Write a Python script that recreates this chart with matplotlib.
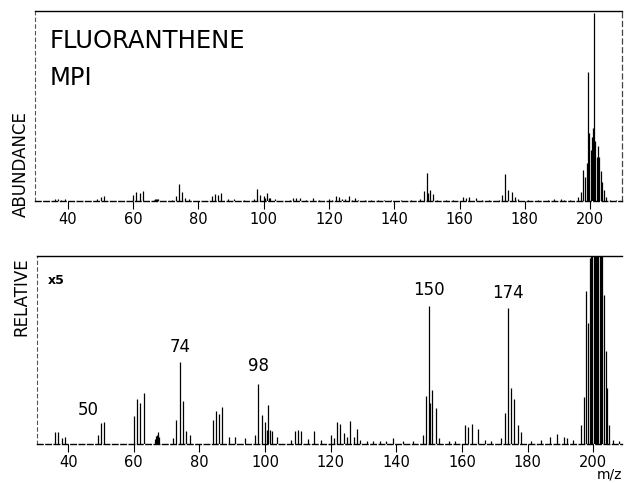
import numpy as np
import matplotlib
matplotlib.use("Agg")
import matplotlib.pyplot as plt

# ---- data: m/z and relative abundance (% of base peak) ----
mz = [36, 37, 38, 39, 49, 50, 51, 60, 61, 62, 63,
      66.4, 66.8, 67.0, 67.3, 67.6, 72, 73, 74, 75, 76, 77,
      84, 85, 86, 87, 89, 91, 94, 97, 98, 99, 100, 100.5, 101, 101.5, 102, 103.5,
      108, 109, 110, 111, 113, 115, 117, 120, 121, 122, 123, 124, 125, 126, 127, 128, 129,
      131, 133, 135, 137, 139, 142, 145, 148, 149, 150, 150.4, 151, 152, 153, 156, 158,
      161, 162, 163, 165, 167, 169, 172, 173, 174, 175, 176, 177, 178, 181, 184, 187, 189, 191, 192, 194,
      196.4, 197.1, 197.9, 198.5, 199.0, 199.5, 199.8, 200.2, 200.5, 200.8, 201.0, 201.3,
      201.6, 202.0, 202.4, 202.8, 203.3, 203.8, 204.3, 204.9, 206, 208]
abund = [1.3, 1.3, 0.6, 0.8, 1.0, 2.3, 2.4, 3.0, 4.8, 4.4, 5.5,
         0.5, 0.9, 1.0, 1.3, 0.8, 0.6, 2.6, 8.8, 4.6, 1.4, 1.0,
         2.6, 3.5, 3.2, 4.0, 0.8, 0.8, 0.6, 1.0, 6.4, 3.1, 2.4, 1.5, 4.2, 1.5, 1.4, 0.8,
         0.4, 1.4, 1.5, 1.4, 0.5, 1.4, 0.4, 1.0, 0.6, 2.4, 2.2, 1.2, 0.8, 2.5, 0.7, 1.6, 0.4,
         0.3, 0.3, 0.3, 0.3, 0.6, 0.3, 0.3, 1.0, 5.2, 14.8, 4.4, 5.8, 3.9, 0.6, 0.3, 0.3,
         2.0, 1.8, 2.2, 1.6, 0.4, 0.3, 0.6, 3.3, 14.6, 6.0, 4.8, 2.0, 1.3, 0.3, 0.4, 0.7, 1.1, 0.8, 0.6, 0.4,
         2, 5, 16.4, 13, 20, 68.4, 36, 27, 34, 29, 39, 100,
         32, 23.5, 29, 23.5, 16, 10, 6, 2, 0.4, 0.3]

ticks = [40, 60, 80, 100, 120, 140, 160, 180, 200]
scale_factor = 5
label_text = ["50", "74", "98", "150", "174"]
label_mz = [46, 74, 98, 150, 174]
label_y = [3.6, 10.4, 8.4, 16.5, 16.2]   # in bottom-panel (x5) units

mz_a = np.array(mz)
ab_a = np.array(abund)

W, H = 624, 483
fig = plt.figure(figsize=(W / 100, H / 100), dpi=100)
plt.rcParams['font.family'] = ['DejaVu Sans']

def px(x, y):
    return x / W, 1 - y / H

ax1 = fig.add_axes([35 / W, 1 - 201 / H, (622 - 35) / W, (201 - 11) / H])
ax2 = fig.add_axes([37 / W, 1 - 444 / H, (622 - 37) / W, (444 - 256) / H])

ymax_top = 101
ymax_bot = ymax_top / scale_factor

ax1.vlines(mz_a, 0, ab_a, color='black', lw=0.9)
ax2.vlines(mz_a, 0, np.minimum(ab_a, ymax_bot), color='black', lw=0.9)

ax1.set_xlim(29.9, 209.8)
ax2.set_xlim(30.5, 208.8)
ax1.set_ylim(0, ymax_top)
ax2.set_ylim(0, ymax_bot)

for ax in (ax1, ax2):
    ax.set_xticks(ticks)
    ax.set_xticklabels([str(t) for t in ticks])
    ax.set_yticks([])
    ax.tick_params(axis='x', direction='out', length=6, width=0.8,
                   labelsize=10.5, pad=2, color='black')
    ax.spines['top'].set_linewidth(1.0)
    ax.spines['bottom'].set_linewidth(1.0)
    ax.spines['bottom'].set_linestyle((0, (4, 2)))
    ax.spines['left'].set_linestyle((0, (3, 3)))
    ax.spines['left'].set_color('#555555')
    ax.spines['left'].set_linewidth(0.8)
    ax.spines['right'].set_linestyle((0, (4, 3)))
    ax.spines['right'].set_color('#444444')
    ax.spines['right'].set_linewidth(0.9)
    ax.patch.set_alpha(0)

ax2.spines['right'].set_visible(False)

# peak labels in x5 panel
for t, x, y in zip(label_text, label_mz, label_y):
    ax2.text(x, y, t, ha='center', va='center', fontsize=12)

# texts
fig.text(*px(50, 48), "FLUORANTHENE", fontsize=17.5, ha='left', va='baseline')
fig.text(*px(50, 85), "MPI", fontsize=17.5, ha='left', va='baseline')
fig.text(*px(21, 164), "ABUNDANCE", fontsize=12, rotation=90, ha='center', va='center')
fig.text(*px(21, 297), "RELATIVE", fontsize=12, rotation=90, ha='center', va='center')
fig.text(*px(48, 280), "x5", fontsize=9, fontweight='bold', ha='left', va='center')
fig.text(*px(622, 482), "m/z", fontsize=10, ha='right', va='bottom')

fig.savefig("out.png", dpi=100)
